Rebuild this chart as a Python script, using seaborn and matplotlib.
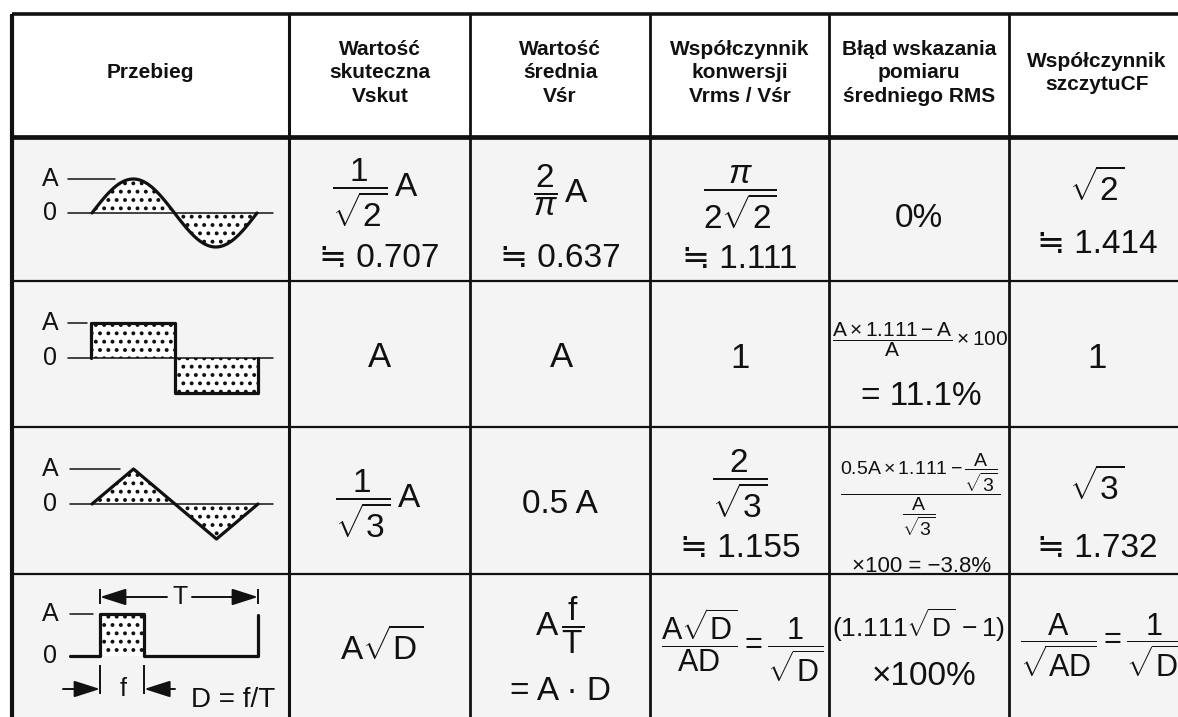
import numpy as np
import matplotlib.pyplot as plt
import seaborn as sns

sns.set_theme(style="white")
plt.rcParams['font.family'] = ['Liberation Sans', 'DejaVu Sans']
plt.rcParams['mathtext.fontset'] = 'custom'
plt.rcParams['mathtext.rm'] = 'Liberation Sans'
plt.rcParams['mathtext.it'] = 'Liberation Sans:italic'
plt.rcParams['mathtext.bf'] = 'Liberation Sans:bold'
plt.rcParams['mathtext.default'] = 'regular'
plt.rcParams['hatch.linewidth'] = 1.6

#############################
### table content  ##########
#############################
headers = ["Przebieg",
           "Wartość\nskuteczna\nVskut",
           "Wartość\nśrednia\nVśr",
           "Współczynnik\nkonwersji\nVrms / Vśr",
           "Błąd wskazania\npomiaru\nśredniego RMS",
           "Współczynnik\nszczytuCF"]

# waveform shapes (one period, amplitude 1)
duty = 0.28
sine_t = np.linspace(0, 1, 121)
sine_v = np.sin(2 * np.pi * sine_t)
square_t = [0, 0, 0.5, 0.5, 1, 1]
square_v = [0, 1, 1, -1, -1, 0]
tri_t = [0, 0.25, 0.75, 1]
tri_v = [0, 1, -1, 0]
pulse_t = [-0.19, 0, 0, duty, duty, 1, 1]
pulse_v = [0, 0, 1, 1, 0, 0, 0.98]

# cell values, row by row
sine_main = [r'$\dfrac{1}{\sqrt{2}}\,A$', r'$\dfrac{2}{\mathit{\pi}}\,A$',
             r'$\dfrac{\mathit{\pi}}{2\sqrt{2}}$', '0%', r'$\sqrt{2}$']
sine_approx = ['≒ 0.707', '≒ 0.637', '≒ 1.111', '', '≒ 1.414']
square_main = ['A', 'A', '1', r'$\dfrac{A\times1.111-A}{A}\times100$', '1']
square_extra = '= 11.1%'
tri_main = [r'$\dfrac{1}{\sqrt{3}}\,A$', '0.5 A', r'$\dfrac{2}{\sqrt{3}}$',
            r'$\dfrac{0.5A\times1.111-\dfrac{A}{\sqrt{3}}}{\dfrac{A}{\sqrt{3}}}$',
            r'$\sqrt{3}$']
tri_approx = ['', '', '≒ 1.155', '×100 = −3.8%', '≒ 1.732']
pulse_main = [r'$A\sqrt{D}$', r'$A\,\dfrac{f}{T}$',
              r'$\dfrac{A\sqrt{D}}{AD}=\dfrac{1}{\sqrt{D}}$',
              r'$(1.111\sqrt{D}\,-1)$',
              r'$\dfrac{A}{\sqrt{AD}}=\dfrac{1}{\sqrt{D}}$']
pulse_extra = ['', '= A · D', '', '×100%', '']

###############################
######## Plotting #############
###############################
W, H = 1178, 717
col_edges = [12, 289, 470, 650, 829, 1009]
row_edges = [14, 137, 281, 427, 574]
ink = '#111111'

fig = plt.figure(figsize=(W / 100, H / 100), dpi=100)
fig.patch.set_facecolor('white')
ax = fig.add_axes([0, 0, 1, 1])
ax.set_xlim(0, W)
ax.set_ylim(H, 0)
ax.axis('off')

ax.axhspan(row_edges[1], H, xmin=col_edges[0] / W, color='#f4f4f4', zorder=0)

# grid
ax.hlines(row_edges, col_edges[0], W, colors=ink, lw=[2.6, 3.4, 1.6, 1.6, 1.6])
ax.vlines(col_edges, row_edges[0], H, colors=ink, lw=[3.0, 2.2, 2.0, 2.0, 2.0, 2.0])


def put(x, y, s, size=24, va='center', ha='center', **kw):
    ax.text(x, y, s, fontsize=size, ha=ha, va=va, color=ink, **kw)


# header
header_x = [150, 380, 560, 740, 919, 1097]
for hx, label in zip(header_x, headers):
    put(hx, 73, label, size=15, fontweight='bold', linespacing=1.3)

# row 1 - sine
put(375, 193, sine_main[0])
put(561, 190, sine_main[1])
put(740, 197, sine_main[2])
put(919, 227, sine_main[3], va='baseline')
put(1097, 188, sine_main[4])
for x, y, s in zip([379, 560, 740, 0, 1097], [267, 267, 268, 0, 253], sine_approx):
    if s:
        put(x, y, s, va='baseline')

# row 2 - square
put(379, 367, square_main[0], size=25, va='baseline')
put(562, 367, square_main[1], size=25, va='baseline')
put(740, 368, square_main[2], size=25, va='baseline')
put(920, 340, square_main[3], size=15)
put(921, 405, square_extra, va='baseline')
put(1097, 368, square_main[4], size=25, va='baseline')

# row 3 - triangle
put(378, 504, tri_main[0])
put(560, 513, tri_main[1], va='baseline')
put(740, 484, tri_main[2])
put(920, 495, tri_main[3], size=14)
put(1097, 487, tri_main[4])
put(740, 557, tri_approx[2], va='baseline')
put(922, 572, tri_approx[3], size=16, va='baseline')
put(1097, 557, tri_approx[4], va='baseline')

# row 4 - pulse
put(382, 660, pulse_main[0], va='baseline')
put(560, 625, pulse_main[1])
put(742, 645, pulse_main[2], size=22)
put(919, 637, pulse_main[3], size=19, va='baseline')
put(1020, 645, pulse_main[4], size=22, ha='left')
put(560, 700, pulse_extra[1], va='baseline')
put(924, 685, pulse_extra[3], va='baseline')

# waveform icons: (wave start px, wave end px, zero line px, amplitude px, zero from, zero to, A dash to)
icons = [(92, 257, 213, 34, 68, 273, 115),
         (91, 258, 358, 35, 68, 273, 87),
         (92, 258, 504, 35, 70, 273, 120),
         (100, 258, 656, 42, 70, None, 93)]
shapes = [(sine_t, sine_v), (square_t, square_v), (tri_t, tri_v), (pulse_t, pulse_v)]

for r, ((x0, x1, y0, amp, z0, z1, dash), (tt, vv)) in enumerate(zip(icons, shapes)):
    top = row_edges[r + 1]
    bot = row_edges[r + 2] if r + 2 < len(row_edges) else H
    iax = fig.add_axes([14 / W, 1 - bot / H, (288 - 14) / W, (bot - top) / H])
    iax.axis('off')
    ph = lambda x: (x - x0) / (x1 - x0)

    if r == 3:
        iax.fill_between([0, duty], 0, 1, facecolor='white', hatch='..',
                         edgecolor=ink, linewidth=0)
    else:
        iax.fill_between(tt, vv, 0, facecolor='white', hatch='..',
                         edgecolor=ink, linewidth=0)
        iax.plot([ph(z0), ph(z1)], [0, 0], color=ink, lw=1.1)
    sns.lineplot(x=tt, y=vv, ax=iax, color=ink, lw=2.3, sort=False, estimator=None)
    iax.plot([ph(z0), ph(dash)], [1, 1], color=ink, lw=1.1)
    iax.text(ph(50), 1, 'A', fontsize=18, ha='center', va='center', color=ink)
    iax.text(ph(50), 0, '0', fontsize=18, ha='center', va='center', color=ink)

    if r == 3:
        arrow = dict(arrowstyle='-|>,head_length=1.0,head_width=0.32', color=ink,
                     lw=1.4, shrinkA=0, shrinkB=0, mutation_scale=16)
        yT = (y0 - 597) / amp
        iax.vlines([0, 1], (y0 - 604) / amp, (y0 - 589) / amp, colors=ink, lw=1.4)
        iax.annotate('', xy=(0, yT), xytext=(ph(167), yT), arrowprops=arrow)
        iax.annotate('', xy=(1, yT), xytext=(ph(192), yT), arrowprops=arrow)
        iax.text(ph(180), yT, 'T', fontsize=18, ha='center', va='center', color=ink)
        yf = (y0 - 689) / amp
        iax.vlines([0, duty], (y0 - 694) / amp, (y0 - 665) / amp, colors=ink, lw=1.4)
        iax.annotate('', xy=(0, yf), xytext=(ph(63), yf), arrowprops=arrow)
        iax.annotate('', xy=(duty, yf), xytext=(ph(175), yf), arrowprops=arrow)
        iax.text(ph(123), yf, 'f', fontsize=18, ha='center', va='center', color=ink)
        iax.text(ph(233), (y0 - 700) / amp, 'D = f/T', fontsize=20, ha='center',
                 va='center', color=ink)

    iax.set_xlim(ph(14), ph(288))
    iax.set_ylim((y0 - bot) / amp, (y0 - top) / amp)

plt.savefig("out.png", dpi=100)
